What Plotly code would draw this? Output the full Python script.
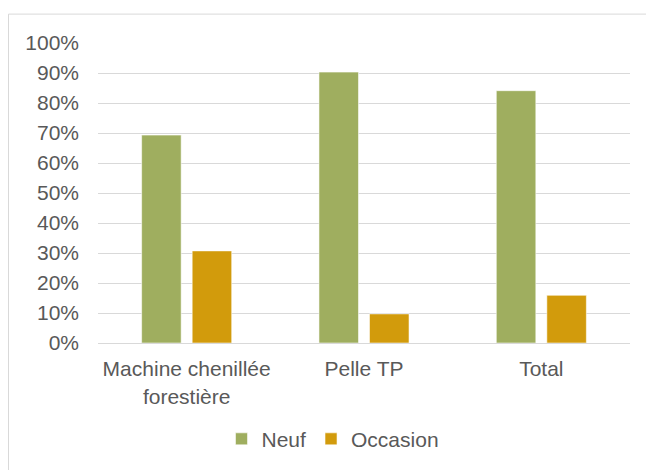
import plotly.graph_objects as go

categories = ["Machine chenillée<br>forestière", "Pelle TP", "Total"]
neuf = [0.693, 0.903, 0.841]
occasion = [0.307, 0.097, 0.159]
series_names = ["Neuf", "Occasion"]
colors = ["#9FAE5F", "#D29B0C"]

FONT = "Liberation Sans, Arial, sans-serif"
TXT = "#595959"
GRID = "#D9D9D9"
FS = 21

fig = go.Figure()
for name, vals, col in zip(series_names, [neuf, occasion], colors):
    fig.add_trace(go.Bar(
        x=categories, y=vals, name=name,
        marker=dict(color=col, line=dict(color="rgba(255,255,255,0.55)", width=1)),
    ))

# page shows the figure with an 8px body margin
OFF = 8
W, H = 654, 470
L, T = 98 - OFF, 42.5 - OFF
R = W - (630 - OFF)
B = H - (343.5 - OFF)
pw, ph = W - L - R, H - T - B

def px2paper_x(px):  # px in window coords
    return (px - OFF - L) / pw

def px2paper_y(py):
    return (H - B - (py - OFF)) / ph

fig.update_layout(
    width=W, height=H,
    margin=dict(l=L, r=R, t=T, b=B, autoexpand=False),
    paper_bgcolor="white", plot_bgcolor="white",
    font=dict(family=FONT, size=FS, color=TXT),
    barmode="group", bargap=0.43, bargroupgap=0.218,
    showlegend=True,
    legend=dict(orientation="h", x=px2paper_x(333), xanchor="center",
                y=px2paper_y(440), yanchor="middle",
                font=dict(family=FONT, size=FS, color=TXT),
                itemwidth=30, traceorder="normal", bgcolor="rgba(0,0,0,0)"),
    xaxis=dict(showgrid=False, showline=True, linecolor=GRID, linewidth=1,
               ticks="", ticklabelstandoff=7,
               tickfont=dict(family=FONT, size=FS, color=TXT)),
    yaxis=dict(range=[0, 1], dtick=0.1, tickformat=".0%", showgrid=True,
               gridcolor=GRID, gridwidth=1, zeroline=False, showline=False,
               ticks="", ticklabelstandoff=18,
               tickfont=dict(family=FONT, size=FS, color=TXT)),
    shapes=[
        dict(type="line", xref="paper", yref="paper",
             x0=px2paper_x(8.5), x1=px2paper_x(700), y0=px2paper_y(13.5), y1=px2paper_y(13.5),
             line=dict(color=GRID, width=1)),
        dict(type="line", xref="paper", yref="paper",
             x0=px2paper_x(8.5), x1=px2paper_x(8.5), y0=px2paper_y(13.5), y1=px2paper_y(520),
             line=dict(color=GRID, width=1)),
    ],
)

fig.write_html("out.html")
